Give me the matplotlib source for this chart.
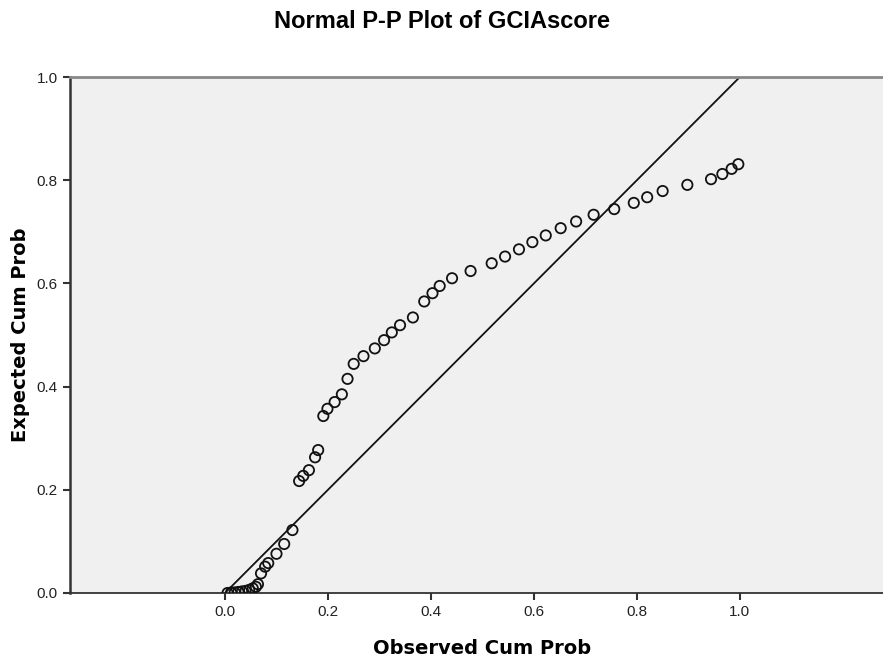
import matplotlib.pyplot as plt
import numpy as np

plt.rcParams['font.family'] = ['Liberation Sans', 'DejaVu Sans']

# Observed vs expected cumulative probabilities
observed = [0.005, 0.012, 0.019, 0.026, 0.033, 0.040, 0.047, 0.054, 0.060, 0.064,
            0.070, 0.078, 0.084, 0.100, 0.115, 0.131,
            0.144, 0.152, 0.163, 0.175, 0.181,
            0.191, 0.199, 0.213, 0.227, 0.238, 0.250, 0.269, 0.291, 0.309, 0.324,
            0.340, 0.365, 0.387, 0.403, 0.417, 0.441, 0.477, 0.518, 0.544, 0.571,
            0.597, 0.623, 0.652, 0.682, 0.716, 0.756, 0.794, 0.820, 0.850, 0.898,
            0.944, 0.966, 0.984, 0.997]
expected = [0.000, 0.001, 0.001, 0.002, 0.003, 0.004, 0.006, 0.009, 0.012, 0.017,
            0.038, 0.051, 0.058, 0.076, 0.095, 0.122,
            0.217, 0.227, 0.238, 0.263, 0.277,
            0.343, 0.357, 0.370, 0.385, 0.415, 0.444, 0.459, 0.474, 0.490, 0.505,
            0.519, 0.534, 0.565, 0.581, 0.595, 0.610, 0.624, 0.639, 0.652, 0.666,
            0.680, 0.693, 0.707, 0.720, 0.733, 0.744, 0.756, 0.767, 0.779, 0.791,
            0.802, 0.812, 0.822, 0.831]
ticks = [0.0, 0.2, 0.4, 0.6, 0.8, 1.0]

fig = plt.figure(figsize=(8.83, 6.62), dpi=100)
ax = fig.add_axes([70 / 883, 1 - 593 / 662, 1 - 70 / 883, (593 - 77) / 662])
ax.set_facecolor('#f0f0f0')

ax.plot([0, 1], [0, 1], color='#111111', linewidth=1.3, zorder=2)
ax.scatter(observed, expected, s=55, facecolors='none', edgecolors='#111111',
           linewidths=1.3, zorder=3)

ax.set_xlim(-0.301, 1.278)
ax.set_ylim(0, 1)
ax.set_xticks(ticks)
ax.set_yticks(ticks)
ax.set_xticklabels([f'{t:.1f}' for t in ticks])
ax.set_yticklabels([f'{t:.1f}' for t in ticks])
ax.tick_params(direction='out', length=5, width=1.5, labelsize=11,
               colors='#333333', labelcolor='#222222', pad=4)

ax.spines['right'].set_visible(False)
ax.spines['left'].set_linewidth(1.8)
ax.spines['left'].set_color('#333333')
ax.spines['bottom'].set_linewidth(1.3)
ax.spines['bottom'].set_color('#333333')
ax.spines['top'].set_linewidth(2)
ax.spines['top'].set_color('#888888')

fig.text(0.5, 1 - 21 / 662, 'Normal P-P Plot of GCIAscore', ha='center', va='center',
         fontsize=17, fontweight='bold', family='Liberation Sans')
fig.text(482 / 883, 1 - 649 / 662, 'Observed Cum Prob', ha='center', va='center',
         fontsize=14, fontweight='bold', family='DejaVu Sans')
fig.text(21 / 883, 1 - 335 / 662, 'Expected Cum Prob', ha='center', va='center',
         fontsize=14, fontweight='bold', family='DejaVu Sans', rotation=90)

fig.savefig('out.png', dpi=100)
